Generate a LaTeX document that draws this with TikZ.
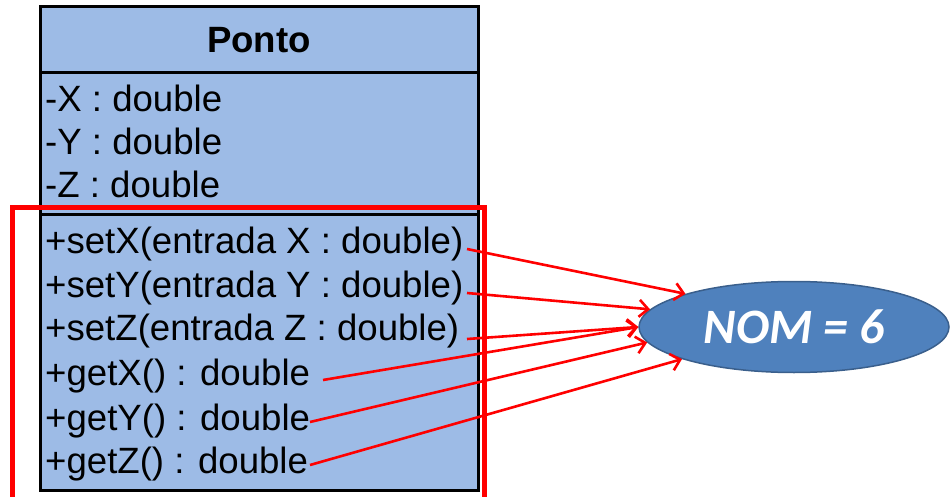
\documentclass[tikz,border=0pt]{standalone}
\usepackage{fontspec}
\setmainfont{Liberation Sans}
\newfontfamily\calib{Carlito}
\usetikzlibrary{shapes.geometric,arrows.meta}
\definecolor{classfill}{HTML}{9DBBE6}
\definecolor{ellfill}{HTML}{4F81BD}
\definecolor{elldraw}{HTML}{3A5F8C}
\tikzset{
  member/.style={anchor=base west, inner sep=0pt, font=\fontsize{36.6}{43}\selectfont},
  conn/.style={draw=red, line width=2.6pt, -{Straight Barb[length=9pt,width=17pt,line width=2.6pt]}},
  bline/.style={line width=3pt, black},
}
\begin{document}
\begin{tikzpicture}[x=1pt,y=-1pt]
\useasboundingbox (0,0) rectangle (950,497);
% class box
\fill[classfill] (40,7) rectangle (478,490);
\draw[bline] (40,7) rectangle (478,490);
\draw[bline] (40,73) -- (478,73);
\draw[bline] (40,215) -- (478,215);
\node[anchor=base, inner sep=0pt, font=\fontsize{36.6}{43}\selectfont\bfseries] (title) at (259,53) {Ponto};
\node[member] (a1) at (45,112) {-X : double};
\node[member] (a2) at (45,155) {-Y : double};
\node[member] (a3) at (45,198) {-Z : double};
\node[member] (m1) at (45,253) {+setX(entrada X : double)};
\node[member] (m2) at (45,297) {+setY(entrada Y : double)};
\node[member] (m3) at (45,340) {+setZ(entrada Z : double)};
\node[member] (m4) at (45,385) {+getX() : double};
\node[member] (m5) at (45,430) {+getY() : double};
\node[member] (m6) at (45,473) {+getZ() : double};
% highlight rectangle
\draw[red, line width=5pt] (12,208) rectangle (484,520);
% ellipse
\node[ellipse, fill=ellfill, draw=elldraw, line width=1.5pt, minimum width=310pt, minimum height=91pt, inner sep=0pt,
      text=white, font=\calib\fontsize{49.5}{50}\selectfont\bfseries\itshape] (nom) at (794,327) {NOM = 6};
% start points
\coordinate (s1) at (467,249);
\coordinate (s2) at (467,293);
\coordinate (s3) at (467,339);
\coordinate (s4) at (323,380);
\coordinate (s5) at (310,422);
\coordinate (s6) at (310,465);
\draw[conn] (s1) -- (nom.163.5);
\draw[conn] (s2) -- (nom.173);
\draw[conn] (s3) -- (nom.180);
\draw[conn] (s4) -- (nom.180);
\draw[conn] (s5) -- (nom.186);
\draw[conn] (s6) -- (nom.196);
\end{tikzpicture}
\end{document}
